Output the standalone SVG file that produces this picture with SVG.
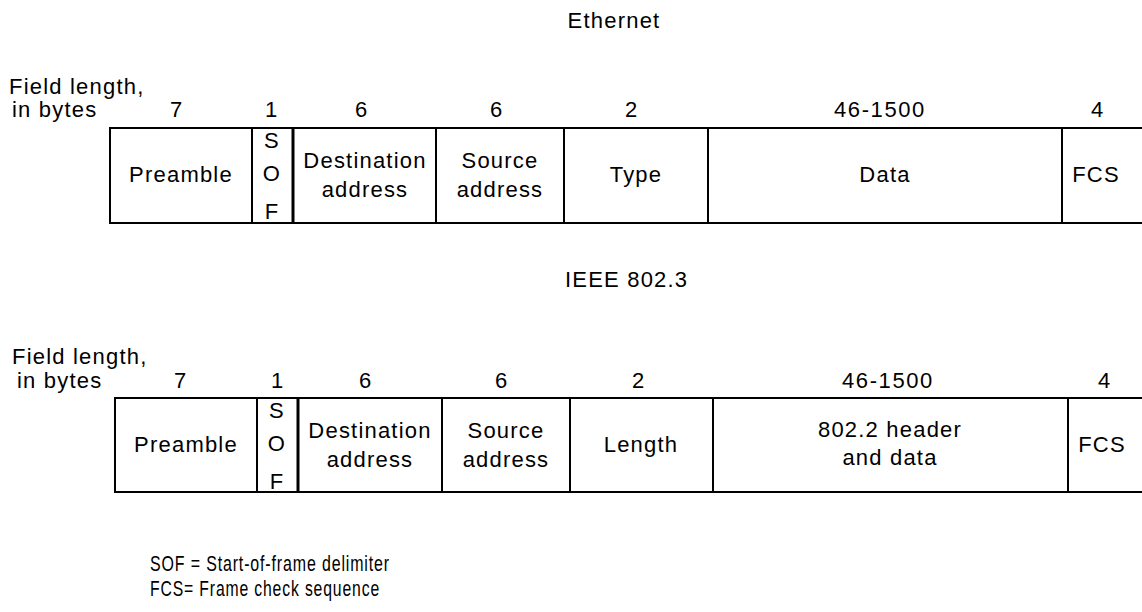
<svg xmlns="http://www.w3.org/2000/svg" width="1142" height="612" viewBox="0 0 1142 612">
<style>
text{font-family:"Liberation Sans",Arial,sans-serif;font-size:22px;fill:#000;letter-spacing:1.2px}
.c{text-anchor:middle}
.n{font-size:22px;letter-spacing:1.6px}
.fr{fill:none;stroke:#000;stroke-width:2}
.dv{stroke:#000;stroke-width:2}
.dk{stroke:#000;stroke-width:3}
</style>
<rect width="1142" height="612" fill="#fff"/>

<g id="ethernet">
  <text id="eth-title" class="c" x="614" y="28" letter-spacing="1.8">Ethernet</text>
  <g id="eth-lengths">
    <text x="9" y="94" letter-spacing="0">Field length,</text>
    <text x="12" y="117" letter-spacing="0.6">in bytes</text>
    <text class="c n" x="177" y="117">7</text>
    <text class="c n" x="272" y="117">1</text>
    <text class="c n" x="362" y="117">6</text>
    <text class="c n" x="497" y="117">6</text>
    <text class="c n" x="632" y="117">2</text>
    <text class="c n" x="880" y="117">46-1500</text>
    <text class="c n" x="1098" y="117">4</text>
  </g>
  <g id="eth-frame">
    <path class="fr" d="M1142 128 H110 V223 H1142"/>
    <line class="dv" x1="252" y1="128" x2="252" y2="223"/>
    <line class="dk" x1="293" y1="128" x2="293" y2="223"/>
    <line class="dv" x1="436" y1="128" x2="436" y2="223"/>
    <line class="dv" x1="564" y1="128" x2="564" y2="223"/>
    <line class="dv" x1="708" y1="128" x2="708" y2="223"/>
    <line class="dv" x1="1062" y1="128" x2="1062" y2="223"/>
  </g>
  <g id="eth-preamble"><text class="c" x="181" y="182">Preamble</text></g>
  <g id="eth-sof">
    <text class="c" x="272" y="148">S</text>
    <text class="c" x="272" y="181">O</text>
    <text class="c" x="272" y="219">F</text>
  </g>
  <g id="eth-dest"><text class="c" x="365" y="168">Destination</text><text class="c" x="365" y="197">address</text></g>
  <g id="eth-src"><text class="c" x="500" y="168">Source</text><text class="c" x="500" y="197">address</text></g>
  <g id="eth-type"><text class="c" x="636" y="182">Type</text></g>
  <g id="eth-data"><text class="c" x="885" y="182">Data</text></g>
  <g id="eth-fcs"><text class="c" x="1096" y="182">FCS</text></g>
</g>

<g id="ieee">
  <text id="ieee-title" x="565" y="287" letter-spacing="1">IEEE 802.3</text>
  <g id="ieee-lengths">
    <text x="12" y="364" letter-spacing="0">Field length,</text>
    <text x="17" y="388" letter-spacing="0.6">in bytes</text>
    <text class="c n" x="181" y="388">7</text>
    <text class="c n" x="278" y="388">1</text>
    <text class="c n" x="366" y="388">6</text>
    <text class="c n" x="502" y="388">6</text>
    <text class="c n" x="639" y="388">2</text>
    <text class="c n" x="888" y="388">46-1500</text>
    <text class="c n" x="1105" y="388">4</text>
  </g>
  <g id="ieee-frame">
    <path class="fr" d="M1142 398 H115 V492 H1142"/>
    <line class="dv" x1="257" y1="398" x2="257" y2="492"/>
    <line class="dk" x1="298" y1="398" x2="298" y2="492"/>
    <line class="dv" x1="442" y1="398" x2="442" y2="492"/>
    <line class="dv" x1="570" y1="398" x2="570" y2="492"/>
    <line class="dv" x1="713" y1="398" x2="713" y2="492"/>
    <line class="dv" x1="1068" y1="398" x2="1068" y2="492"/>
  </g>
  <g id="ieee-preamble"><text class="c" x="186" y="452">Preamble</text></g>
  <g id="ieee-sof">
    <text class="c" x="277" y="418">S</text>
    <text class="c" x="277" y="451">O</text>
    <text class="c" x="277" y="489">F</text>
  </g>
  <g id="ieee-dest"><text class="c" x="370" y="438">Destination</text><text class="c" x="370" y="467">address</text></g>
  <g id="ieee-src"><text class="c" x="506" y="438">Source</text><text class="c" x="506" y="467">address</text></g>
  <g id="ieee-length"><text class="c" x="641" y="452">Length</text></g>
  <g id="ieee-data"><text class="c" x="890" y="437">802.2 header</text><text class="c" x="890" y="465">and data</text></g>
  <g id="ieee-fcs"><text class="c" x="1102" y="452">FCS</text></g>
</g>

<g id="legend">
  <text x="150" y="571" textLength="240" lengthAdjust="spacingAndGlyphs">SOF = Start-of-frame delimiter</text>
  <text x="150" y="596" textLength="230" lengthAdjust="spacingAndGlyphs">FCS= Frame check sequence</text>
</g>
</svg>
